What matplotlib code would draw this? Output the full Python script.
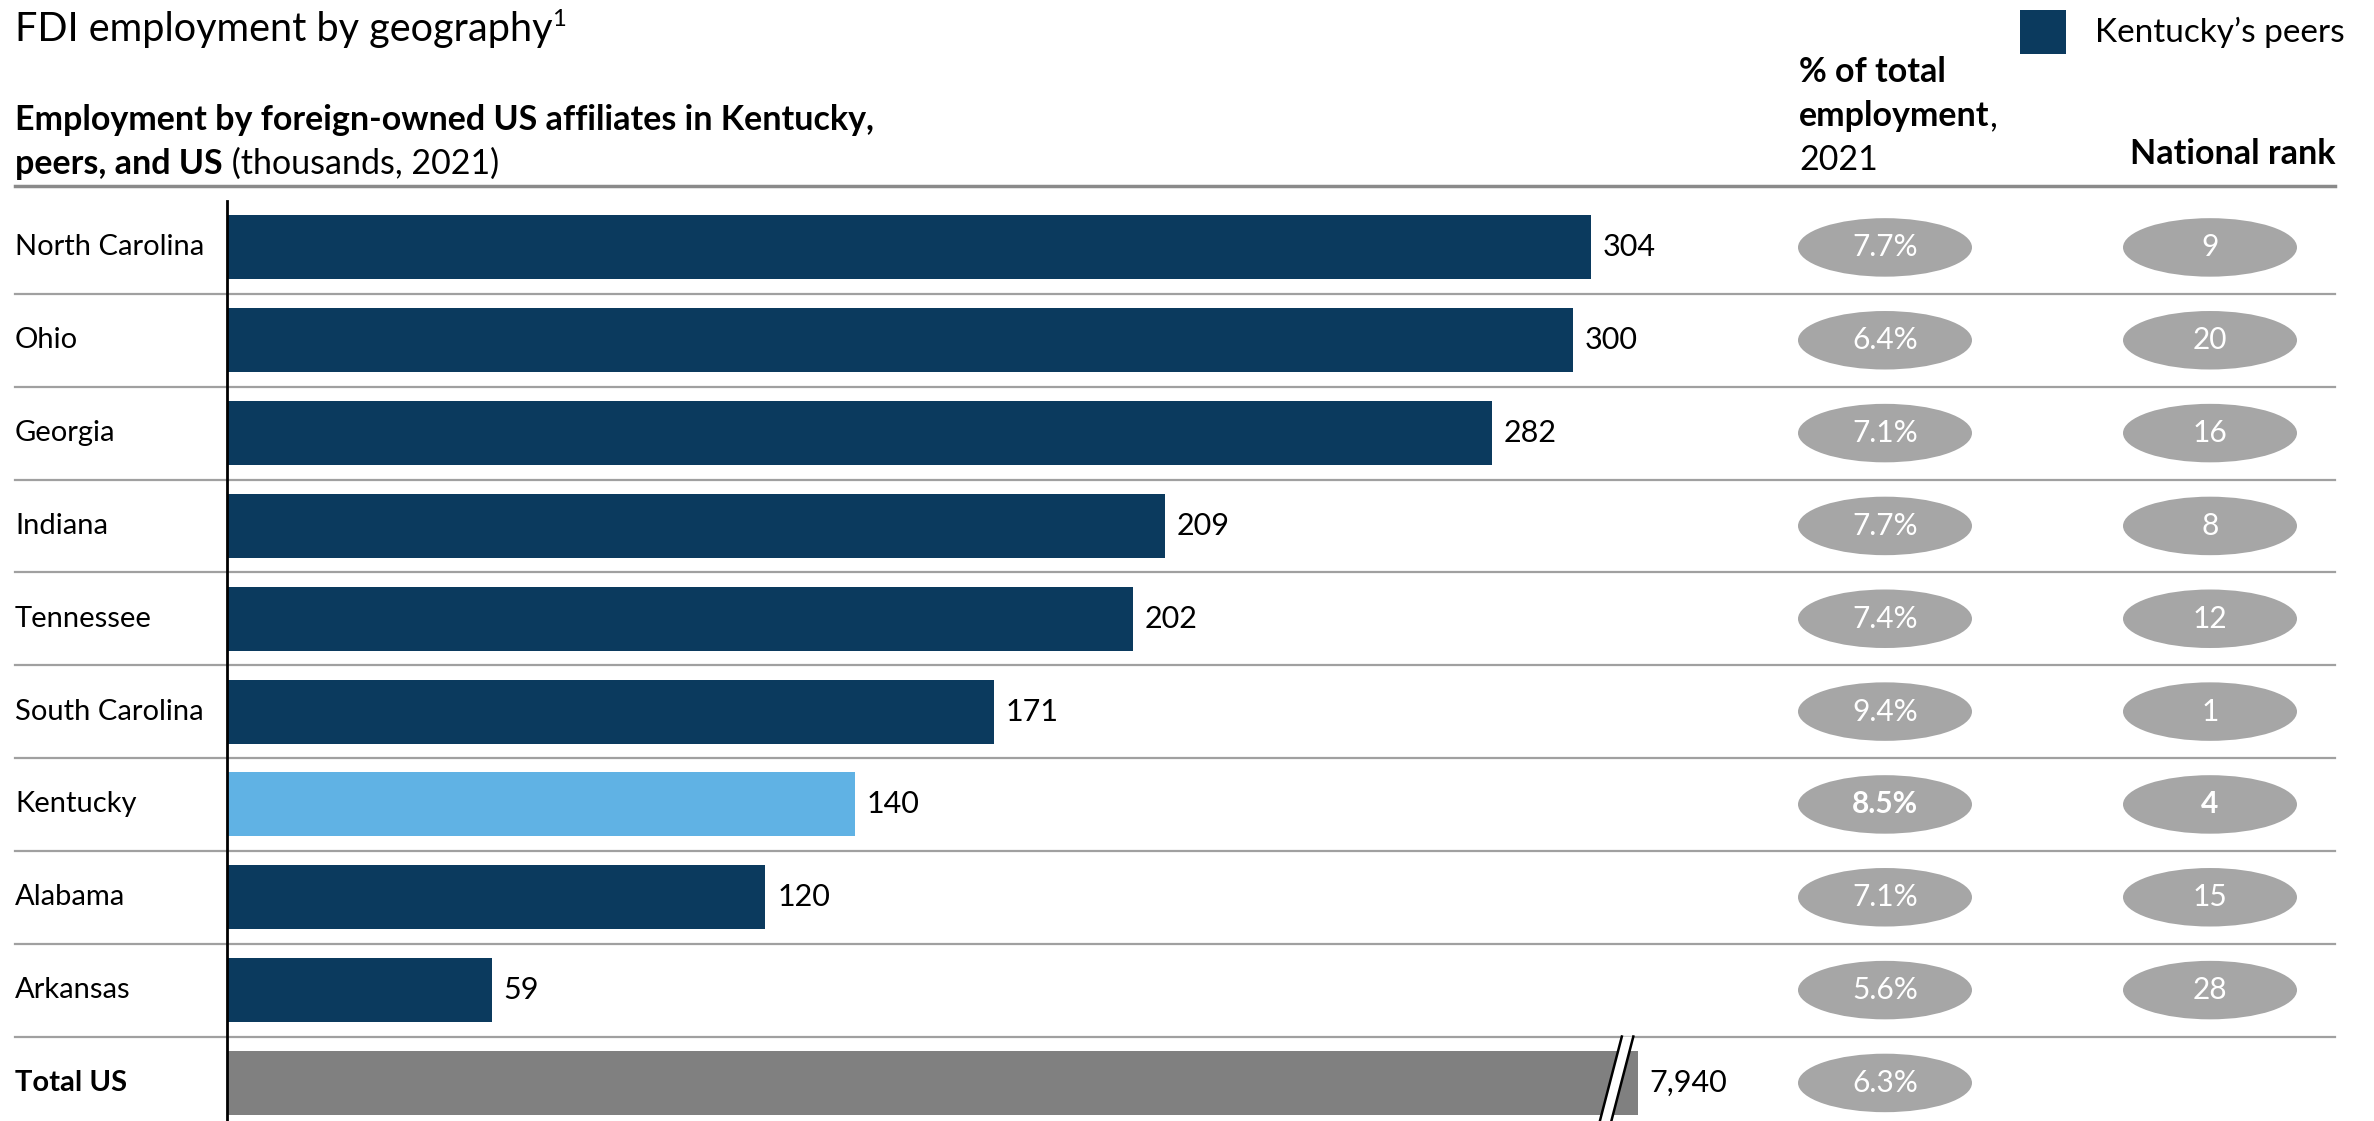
import matplotlib.pyplot as plt
from matplotlib.patches import Ellipse, Rectangle, Polygon
from matplotlib.lines import Line2D
from matplotlib.transforms import blended_transform_factory

states = ["North Carolina", "Ohio", "Georgia", "Indiana", "Tennessee",
          "South Carolina", "Kentucky", "Alabama", "Arkansas", "Total US"]
employment = [304, 300, 282, 209, 202, 171, 140, 120, 59, 7940]   # thousands
pct_total = [7.7, 6.4, 7.1, 7.7, 7.4, 9.4, 8.5, 7.1, 5.6, 6.3]
national_rank = [9, 20, 16, 8, 12, 1, 4, 15, 28, None]
home_state = "Kentucky"
total_row = "Total US"

DARK = "#0b3a5e"
LIGHT = "#60b2e4"
TOTAL = "#808080"
PILL = "#a6a6a6"
RULE = "#a0a0a0"

plt.rcParams['font.family'] = ['Lato', 'DejaVu Sans']

W, H = 2374, 1121
fig = plt.figure(figsize=(W / 100, H / 100), dpi=100)


def fx(px):
    return px / W


def fy(py):
    return 1 - py / H


# broken axis: anything longer than this is cut and marked
axis_cap = 314.5

ax = fig.add_axes([fx(227), 0, fx(1638) - fx(227), 1 - 201 / H])
rows = list(range(len(states)))
colors = [LIGHT if s == home_state else TOTAL if s == total_row else DARK for s in states]
ax.barh(rows, employment, height=0.69, color=colors, zorder=2)
ax.set_xlim(0, axis_cap)
ax.set_ylim(9.41, -0.5)
ax.set_xticks([])
ax.set_yticks([])
for side in ['top', 'right', 'bottom']:
    ax.spines[side].set_visible(False)
ax.spines['left'].set_linewidth(2)
ax.spines['left'].set_zorder(4)

blend = blended_transform_factory(fig.transFigure, ax.transData)

# row labels, value labels, separators
for i, (s, v) in enumerate(zip(states, employment)):
    ax.text(fx(15), i, s, transform=blend, va='center', ha='left', fontsize=21,
            fontweight='bold' if s == total_row else 'normal')
    ax.annotate(f"{v:,}", xy=(min(v, axis_cap), i), xytext=(8.5, 0), textcoords='offset points',
                va='center', ha='left', fontsize=22, annotation_clip=False)
for i in rows[:-1]:
    ax.plot([fx(15), fx(2335)], [i + 0.5, i + 0.5], transform=blend, color=RULE,
            lw=1.6, clip_on=False, zorder=1)

# break marks on the clipped bar
ybot = ax.get_ylim()[0]
for i, v in enumerate(employment):
    if v > axis_cap:
        bx, gap, slant = axis_cap - 6.05, 2.56, 4.9
        y0 = i - 0.5
        ax.add_patch(Polygon([(bx + slant / 2, y0), (bx + slant / 2 + gap, y0),
                              (bx - slant / 2 + gap, ybot), (bx - slant / 2, ybot)],
                             closed=True, facecolor='white', edgecolor='none',
                             zorder=3, clip_on=False))
        for off in (0, gap):
            ax.plot([bx + slant / 2 + off, bx - slant / 2 + off], [y0, ybot], color='black',
                    lw=1.8, zorder=3, clip_on=False)

# share-of-employment and rank pills
for i, (s, p, r) in enumerate(zip(states, pct_total, national_rank)):
    weight = 'bold' if s == home_state else 'normal'
    for cx, txt in ((1885, f"{p:.1f}%"), (2210, None if r is None else str(r))):
        if txt is None:
            continue
        ax.add_artist(Ellipse((fx(cx), i), width=fx(174), height=0.63, transform=blend,
                              facecolor=PILL, edgecolor='none', clip_on=False, zorder=2))
        ax.text(fx(cx), i, txt, transform=blend, ha='center', va='center', color='white',
                fontsize=21.5, fontweight=weight, zorder=3)

# headers
fig.add_artist(Line2D([fx(15), fx(2335)], [fy(186), fy(186)], color='#8a8a8a', lw=2.5))

renderer = fig.canvas.get_renderer()


def put_after(prev, s, dy=0, **kw):
    bb = prev.get_window_extent(renderer)
    x0, y0 = prev.get_position()
    return fig.text(bb.x1 / W, y0 + dy / H, s, va='baseline', ha='left', **kw)


title = fig.text(fx(15), fy(41), "FDI employment by geography", fontsize=28.5, va='baseline')
put_after(title, "1", dy=15, fontsize=17)

fig.text(fx(15), fy(130), "Employment by foreign-owned US affiliates in Kentucky,",
         fontsize=24.5, fontweight='bold', va='baseline')
sub2 = fig.text(fx(15), fy(174), "peers, and US", fontsize=24.5, fontweight='bold', va='baseline')
put_after(sub2, " (thousands, 2021)", fontsize=24.5)

fig.text(fx(1799), fy(82), "% of total", fontsize=24.5, fontweight='bold', va='baseline')
emp = fig.text(fx(1799), fy(126), "employment", fontsize=24.5, fontweight='bold', va='baseline')
put_after(emp, ",", fontsize=24.5)
fig.text(fx(1799), fy(170), "2021", fontsize=24.5, va='baseline')
fig.text(fx(2130), fy(164), "National rank", fontsize=24.5, fontweight='bold', va='baseline')

# legend
fig.add_artist(Rectangle((fx(2020), fy(54)), fx(46), 44 / H, facecolor=DARK, edgecolor='none'))
fig.text(fx(2095), fy(32), "Kentucky\u2019s peers", fontsize=24, va='center', ha='left')

fig.savefig("out.png", dpi=100)
